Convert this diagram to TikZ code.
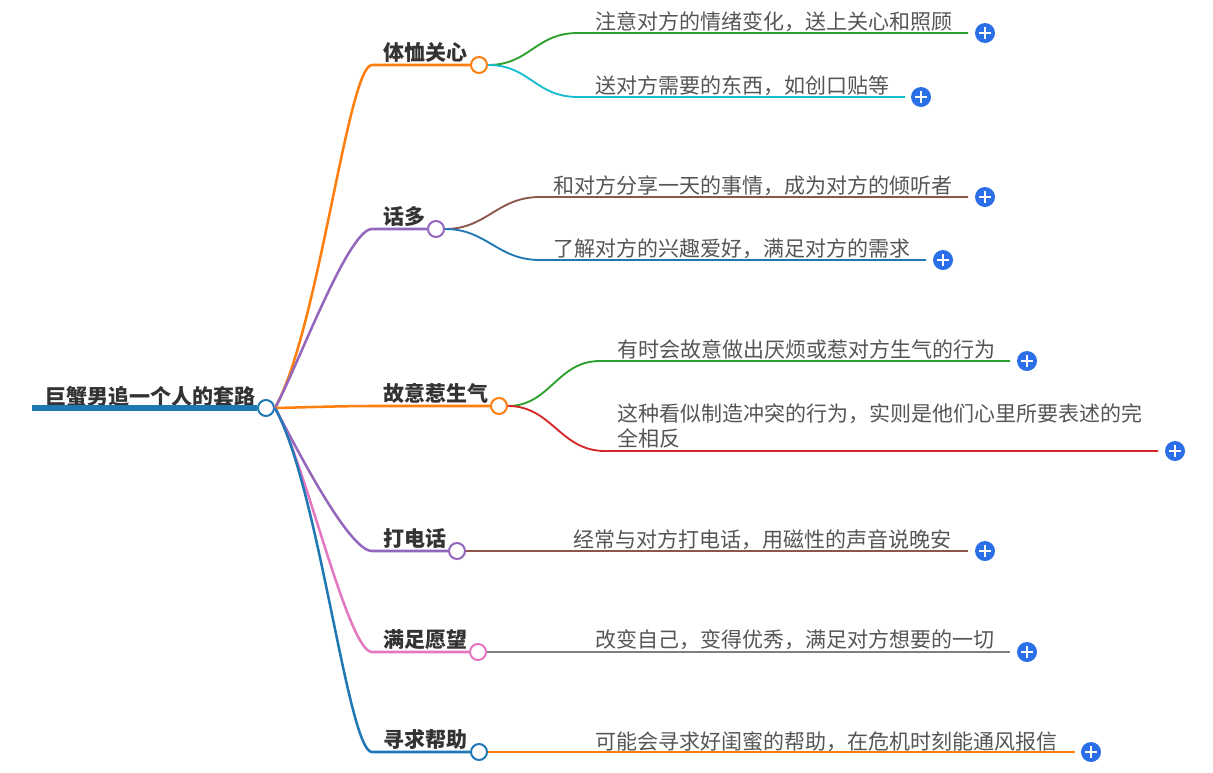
\documentclass[tikz,border=0pt]{standalone}
\usepackage{fontspec}
\setmainfont{Noto Sans CJK SC}
\definecolor{tblue}{HTML}{1F77B4}
\definecolor{torange}{HTML}{FF7F0E}
\definecolor{tgreen}{HTML}{2CA02C}
\definecolor{tred}{HTML}{D62728}
\definecolor{tpurple}{HTML}{9467BD}
\definecolor{tbrown}{HTML}{8C564B}
\definecolor{tpink}{HTML}{E377C2}
\definecolor{tgray}{HTML}{7F7F7F}
\definecolor{tcyan}{HTML}{17BECF}
\definecolor{plusblue}{HTML}{2A6EE8}
\definecolor{txtdark}{HTML}{333333}
\definecolor{txtleaf}{HTML}{555555}
\begin{document}
\begin{tikzpicture}[x=0.75pt,y=-0.75pt,
  roottext/.style={font=\fontsize{15.75pt}{18pt}\selectfont\bfseries, text=txtdark, inner sep=0pt, anchor=base west},
  l1text/.style={font=\fontsize{15.75pt}{18pt}\selectfont\bfseries, text=txtdark, inner sep=0pt, anchor=base west},
  leaftext/.style={font=\fontsize{15.75pt}{18.75pt}\selectfont, text=txtleaf, inner sep=0pt, anchor=base west},
  hub/.style={circle, draw=#1, fill=white, line width=1.5pt, minimum size=12pt, inner sep=0pt},
  trunk/.style={draw=#1, line width=1.9pt},
  twig/.style={draw=#1, line width=1.4pt},
  plusbtn/.style={circle, fill=plusblue, minimum size=15pt, inner sep=0pt,
    path picture={\draw[white, line width=1.6pt]
      ([xshift=-4.2pt]path picture bounding box.center) -- ([xshift=4.2pt]path picture bounding box.center)
      ([yshift=-4.2pt]path picture bounding box.center) -- ([yshift=4.2pt]path picture bounding box.center);}}
]
\useasboundingbox (0,0) rectangle (1213,772);

% root
\node[roottext] (r0) at (45,404) {巨蟹男追一个人的套路};
\node[hub=tblue] (c0) at (266,408) {};
\coordinate (ru) at (32,408);
\draw[tblue, line width=4pt] (ru) -- (c0.west);

% level 1
\node[l1text] (t1) at (383,60) {体恤关心};
\node[hub=torange] (c1) at (479,65) {};
\coordinate (a1) at (372,65);
\node[l1text] (t2) at (383,224) {话多};
\node[hub=tpurple] (c2) at (436,229) {};
\coordinate (a2) at (372,229);
\node[l1text] (t3) at (383,401) {故意惹生气};
\node[hub=torange] (c3) at (499,406) {};
\coordinate (a3) at (372,406);
\node[l1text] (t4) at (383,546) {打电话};
\node[hub=tpurple] (c4) at (457,551) {};
\coordinate (a4) at (372,551);
\node[l1text] (t5) at (383,647) {满足愿望};
\node[hub=tpink] (c5) at (478,652) {};
\coordinate (a5) at (372,652);
\node[l1text] (t6) at (383,747) {寻求帮助};
\node[hub=tblue] (c6) at (479,752) {};
\coordinate (a6) at (372,752);

\draw[trunk=torange] (c0.east) .. controls (318.6,330.5) and (348,65) .. (a1) -- (c1.west);
\draw[trunk=tpurple] (c0.east) .. controls (297.3,367.5) and (348,229) .. (a2) -- (c2.west);
\draw[trunk=torange] (c0.east) .. controls (300,407.5) and (340,406) .. (a3) -- (c3.west);
\draw[trunk=tpurple] (c0.east) .. controls (292.6,440.3) and (348,551) .. (a4) -- (c4.west);
\draw[trunk=tpink] (c0.east) .. controls (305.7,463.1) and (348,652) .. (a5) -- (c5.west);
\draw[trunk=tblue] (c0.east) .. controls (318.7,485.7) and (348,752) .. (a6) -- (c6.west);

% leaves
\node[leaftext] (l11) at (595,29) {注意对方的情绪变化，送上关心和照顾};
\coordinate (s11) at (578,33); \coordinate (e11) at (968,33);
\node[plusbtn] (p11) at (985,33) {};
\draw[twig=tgreen] (c1.east) .. controls (530,65) and (535,33) .. (s11) -- (e11);

\node[leaftext] (l12) at (595,93) {送对方需要的东西，如创口贴等};
\coordinate (s12) at (578,97); \coordinate (e12) at (905,97);
\node[plusbtn] (p12) at (921,97) {};
\draw[twig=tcyan] (c1.east) .. controls (530,65) and (535,97) .. (s12) -- (e12);

\node[leaftext] (l21) at (553,193) {和对方分享一天的事情，成为对方的倾听者};
\coordinate (s21) at (540,197); \coordinate (e21) at (968,197);
\node[plusbtn] (p21) at (985,197) {};
\draw[twig=tbrown] (c2.east) .. controls (487,229) and (497,197) .. (s21) -- (e21);

\node[leaftext] (l22) at (553,256) {了解对方的兴趣爱好，满足对方的需求};
\coordinate (s22) at (540,260); \coordinate (e22) at (926,260);
\node[plusbtn] (p22) at (943,260) {};
\draw[twig=tblue] (c2.east) .. controls (487,229) and (497,260) .. (s22) -- (e22);

\node[leaftext] (l31) at (617,357) {有时会故意做出厌烦或惹对方生气的行为};
\coordinate (s31) at (600,361); \coordinate (e31) at (1010,361);
\node[plusbtn] (p31) at (1027,361) {};
\draw[twig=tgreen] (c3.east) .. controls (550,406) and (557,361) .. (s31) -- (e31);

\node[leaftext] (l32) at (617,421) {\parbox[t]{420pt}{\raggedright 这种看似制造冲突的行为，实则是他们心里所要表述的完\\全相反}};
\coordinate (s32) at (605,451); \coordinate (e32) at (1158,451);
\node[plusbtn] (p32) at (1175,451) {};
\draw[twig=tred] (c3.east) .. controls (552,406) and (560,451) .. (s32) -- (e32);

\node[leaftext] (l41) at (573,547) {经常与对方打电话，用磁性的声音说晚安};
\coordinate (e41) at (968,551);
\node[plusbtn] (p41) at (985,551) {};
\draw[twig=tbrown] (c4.east) -- (e41);

\node[leaftext] (l51) at (595,647) {改变自己，变得优秀，满足对方想要的一切};
\coordinate (e51) at (1010,652);
\node[plusbtn] (p51) at (1027,652) {};
\draw[twig=tgray] (c5.east) -- (e51);

\node[leaftext] (l61) at (595,749) {可能会寻求好闺蜜的帮助，在危机时刻能通风报信};
\coordinate (e61) at (1075,752);
\node[plusbtn] (p61) at (1091,752) {};
\draw[twig=torange] (c6.east) -- (e61);
\end{tikzpicture}
\end{document}
